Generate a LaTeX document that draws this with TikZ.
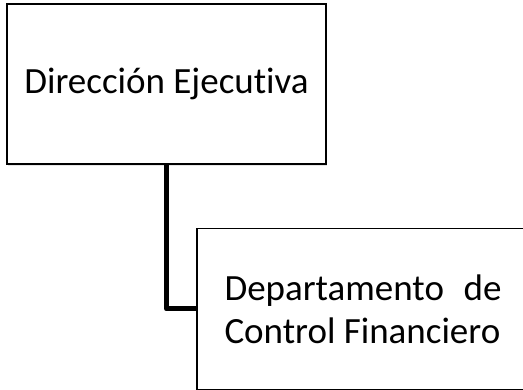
\documentclass[tikz,border=0pt]{standalone}
\usepackage{fontspec}
\setmainfont{Carlito}[Ligatures=NoCommon]
\usetikzlibrary{shadows}
\tikzset{unit/.style = {shape=rectangle,draw,line width=1.2pt,fill=white,
    drop shadow={opacity=0.2,shadow xshift=1pt,shadow yshift=-2pt},
    font=\fontsize{37}{43}\selectfont,inner sep=0pt}}
\tikzset{link/.style = {line width=5pt,line join=round}}

\begin{document}
\begin{tikzpicture}[x=1pt,y=-1pt]
          \useasboundingbox (0,0) rectangle (523,390);
          \node[unit,minimum width=319pt,minimum height=160pt] (dir) at (166.5, 84) {Dirección Ejecutiva};
          \node[unit,minimum width=332pt,minimum height=161pt,text width=277pt,align=flush left] (dep) at (363, 309)
            {Departamento \hfill de\\Control Financiero};

          \draw[link] (dir.south) |- (dep.west);
        \end{tikzpicture}
\end{document}
